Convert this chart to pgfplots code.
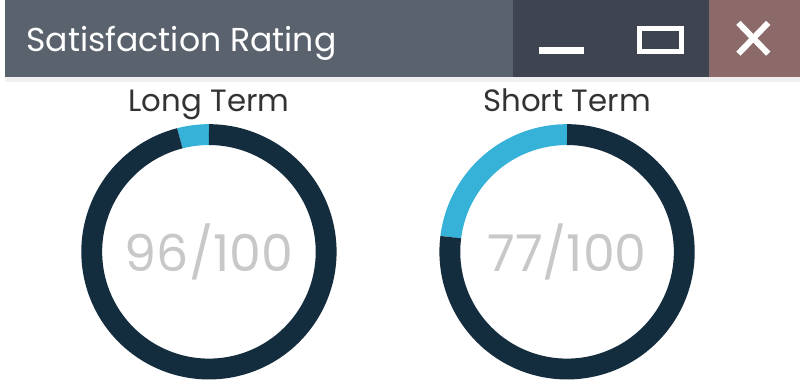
\documentclass[border=0pt]{standalone}
\usepackage{pgfplots}
\pgfplotsset{compat=1.18}
\usepackage{pgfplotstable}
\usepgfplotslibrary{polar}
\usepackage{fontspec}
\setmainfont{Poppins}
\definecolor{barmain}{HTML}{5A626E}
\definecolor{bardark}{HTML}{3E4550}
\definecolor{barclose}{HTML}{8B6A69}
\definecolor{ringdark}{HTML}{142D3E}
\definecolor{ringlight}{HTML}{36B2D8}
\definecolor{numgrey}{HTML}{C8C8C8}
\definecolor{labelgrey}{HTML}{333333}

\pgfplotstableread{
term score
Long 96
Short 77
}\ratings

\begin{document}
\pgfplotstablegetelem{0}{score}\of\ratings \let\longscore\pgfplotsretval
\pgfplotstablegetelem{1}{score}\of\ratings \let\shortscore\pgfplotsretval
\pgfmathsetmacro\lsplit{90+(100-\longscore)*3.6}
\pgfmathsetmacro\ssplit{90+(100-\shortscore)*3.6}
\begin{tikzpicture}[x=1pt,y=1pt]
\path[use as bounding box, fill=white] (0,0) rectangle (800,393);
% title bar
\fill[gray!12] (0,310) rectangle (800,316);
\fill[barmain] (0,315) rectangle (800,393);
\fill[bardark] (511,315) rectangle (708,393);
\fill[barclose] (708,315) rectangle (800,393);
\node[anchor=base west, inner sep=0, text=white, font=\fontsize{33.3}{36}\selectfont] at (21,341) {Satisfaction Rating};
\fill[white] (537,339) rectangle (583,346);
\draw[white, line width=5pt] (638,341.5) rectangle (680.5,364.5);
\draw[white, line width=6pt] (738,370) -- (768,339);
\draw[white, line width=6pt] (738,339) -- (768,370);

% Long Term
\begin{polaraxis}[hide axis, scale only axis, width=236pt, height=236pt,
  xmin=0, xmax=360, ymin=0, ymax=1, clip=false,
  at={(205pt,139.5pt)}, anchor=origin]
\addplot[ringlight, line width=21pt, line cap=butt, domain=90:\lsplit, samples=30] {1};
\addplot[ringdark, line width=21pt, line cap=butt, domain=\lsplit:450, samples=240] {1};
\end{polaraxis}
\node[anchor=base, inner sep=0, text=labelgrey, font=\fontsize{31}{34}\selectfont] at (205,281) {Long Term};
\node[anchor=base, inner sep=0, text=numgrey, font=\fontsize{51}{56}\selectfont] at (205,120) {\longscore/100};

% Short Term
\begin{polaraxis}[hide axis, scale only axis, width=236pt, height=236pt,
  xmin=0, xmax=360, ymin=0, ymax=1, clip=false,
  at={(565.5pt,139.5pt)}, anchor=origin]
\addplot[ringlight, line width=21pt, line cap=butt, domain=90:\ssplit, samples=60] {1};
\addplot[ringdark, line width=21pt, line cap=butt, domain=\ssplit:450, samples=240] {1};
\end{polaraxis}
\node[anchor=base, inner sep=0, text=labelgrey, font=\fontsize{31}{34}\selectfont] at (565.5,281) {Short Term};
\node[anchor=base, inner sep=0, text=numgrey, font=\fontsize{51}{56}\selectfont] at (565.5,120) {\shortscore/100};
\end{tikzpicture}
\end{document}
